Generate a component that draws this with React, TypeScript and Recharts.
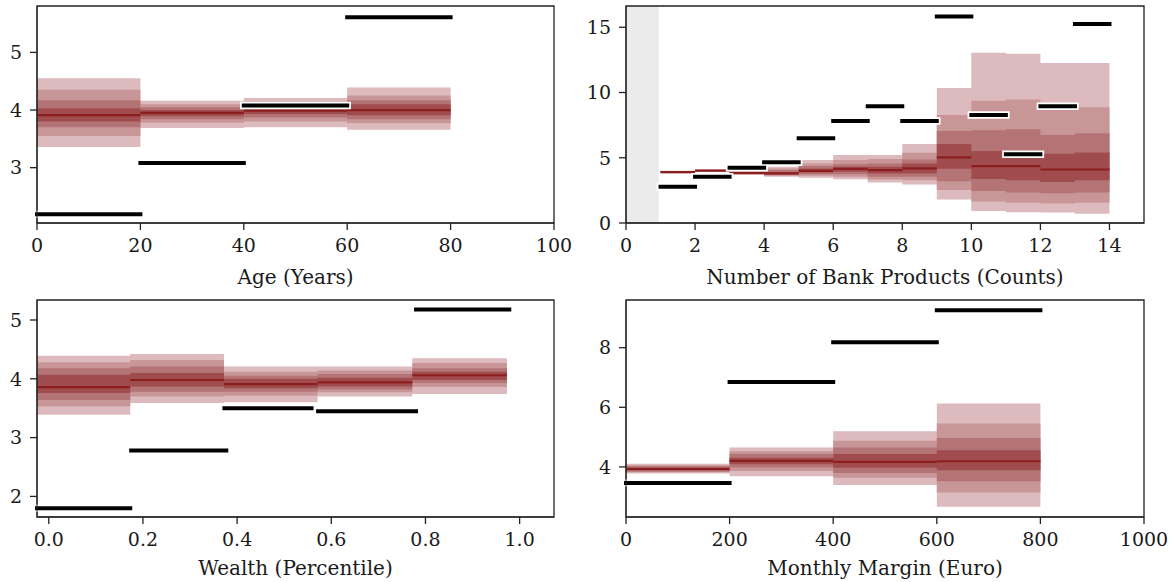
import React from "react";
import { ComposedChart, Area, XAxis, YAxis, ReferenceLine, ReferenceArea } from "recharts";

const FONT = "'DejaVu Serif', serif";
const TEXT = "#1a1a1a";
// outer band -> inner band
const BAND_COLORS = ["#dcbabd", "#c99698", "#b47476", "#a04b4e"];
const MEDIAN_COLOR = "#8b1f1f";

// ---- Age (Years)
const ageEdges = [0, 20, 40, 60, 80];
const ageMedian = [3.91, 3.95, 3.99, 4.0];
const ageLower = [
  [3.36, 3.69, 3.7, 3.66],
  [3.55, 3.78, 3.8, 3.77],
  [3.7, 3.84, 3.87, 3.84],
  [3.8, 3.89, 3.93, 3.91],
];
const ageUpper = [
  [4.55, 4.16, 4.21, 4.39],
  [4.35, 4.1, 4.15, 4.25],
  [4.17, 4.05, 4.1, 4.17],
  [4.03, 4.0, 4.05, 4.1],
];
const ageObsStart = [0, 20, 40, 60];
const ageObsEnd = [20, 40, 60, 80];
const ageObs = [2.19, 3.08, 4.08, 5.61];

// ---- Number of Bank Products (Counts)
const bankEdges = [1, 2, 3, 4, 5, 6, 7, 8, 9, 10, 11, 12, 13, 14];
const bankMedian = [3.9, 4.02, 3.84, 3.8, 4.0, 4.15, 4.05, 4.18, 5.03, 4.36, 4.36, 4.1, 4.1];
const bankLower = [
  [3.8, 3.93, 3.68, 3.54, 3.46, 3.36, 3.1, 2.95, 1.8, 0.92, 0.83, 0.8, 0.7],
  [3.83, 3.95, 3.72, 3.62, 3.62, 3.54, 3.34, 3.28, 2.52, 1.65, 1.55, 1.49, 1.55],
  [3.86, 3.97, 3.76, 3.68, 3.74, 3.74, 3.54, 3.54, 3.2, 2.45, 2.33, 2.28, 2.33],
  [3.88, 3.99, 3.8, 3.74, 3.87, 3.92, 3.8, 3.8, 4.15, 3.38, 3.28, 3.15, 3.28],
];
const bankUpper = [
  [4.0, 4.1, 4.02, 4.31, 4.82, 5.21, 5.21, 6.05, 10.34, 13.05, 12.98, 12.26, 12.26],
  [3.97, 4.08, 3.97, 4.18, 4.56, 4.82, 4.9, 5.38, 8.28, 9.36, 9.47, 8.92, 8.88],
  [3.94, 4.06, 3.92, 4.05, 4.36, 4.51, 4.56, 4.87, 7.06, 7.1, 7.18, 6.75, 6.87],
  [3.92, 4.04, 3.88, 3.9, 4.18, 4.31, 4.31, 4.56, 6.05, 5.52, 5.45, 5.3, 5.4],
];
const bankObsStart = [1, 2, 3, 4, 5, 6, 7, 8, 9, 10, 11, 12, 13];
const bankObsEnd = [2, 3, 4, 5, 6, 7, 8, 9, 10, 11, 12, 13, 14];
const bankObs = [2.77, 3.54, 4.23, 4.65, 6.49, 7.82, 8.95, 7.82, 15.82, 8.28, 5.26, 8.95, 15.26];

// ---- Wealth (Percentile)
const wealthEdges = [-0.025, 0.173, 0.372, 0.571, 0.772, 0.973];
const wealthMedian = [3.86, 3.98, 3.91, 3.94, 4.06];
const wealthLower = [
  [3.39, 3.59, 3.6, 3.7, 3.74],
  [3.53, 3.7, 3.71, 3.77, 3.86],
  [3.64, 3.78, 3.78, 3.82, 3.93],
  [3.76, 3.87, 3.84, 3.87, 3.98],
];
const wealthUpper = [
  [4.39, 4.42, 4.21, 4.21, 4.35],
  [4.28, 4.32, 4.12, 4.14, 4.27],
  [4.18, 4.21, 4.05, 4.08, 4.18],
  [4.07, 4.1, 4.0, 4.02, 4.12],
];
const wealthObsStart = [-0.025, 0.175, 0.373, 0.572, 0.78];
const wealthObsEnd = [0.173, 0.377, 0.558, 0.78, 0.978];
const wealthObs = [1.8, 2.78, 3.5, 3.45, 5.18];

// ---- Monthly Margin (Euro)
const marginEdges = [0, 200, 400, 600, 800];
const marginMedian = [3.93, 4.2, 4.17, 4.19];
const marginLower = [
  [3.78, 3.69, 3.39, 2.66],
  [3.82, 3.86, 3.64, 3.14],
  [3.85, 3.98, 3.8, 3.52],
  [3.88, 4.09, 3.97, 3.89],
];
const marginUpper = [
  [4.11, 4.65, 5.2, 6.13],
  [4.06, 4.53, 4.88, 5.46],
  [4.02, 4.43, 4.65, 4.97],
  [3.98, 4.31, 4.43, 4.56],
];
const marginObsStart = [0, 200, 400, 600];
const marginObsEnd = [200, 400, 600, 800];
const marginObs = [3.46, 6.85, 8.18, 9.26];

function buildRows(edges: number[], lower: number[][], upper: number[][], median: number[]) {
  const n = median.length;
  return edges.map((x, i) => {
    const k = Math.min(i, n - 1);
    const row: any = { x };
    for (let l = 0; l < 4; l++) row["b" + l] = [lower[l][k], upper[l][k]];
    return row;
  });
}

const panels = [
  {
    label: "Age (Years)",
    edges: ageEdges,
    median: ageMedian,
    rows: buildRows(ageEdges, ageLower, ageUpper, ageMedian),
    obs: { start: ageObsStart, end: ageObsEnd, y: ageObs },
    xDomain: [0, 100], xTicks: [0, 20, 40, 60, 80, 100],
    yDomain: [2.04, 5.805], yTicks: [3, 4, 5],
    left: 0, top: 0, yWidth: 37, labelOffset: 7, margin: { top: 6, right: 33, bottom: 28, left: 0 },
  },
  {
    label: "Number of Bank Products (Counts)",
    edges: bankEdges,
    median: bankMedian,
    rows: buildRows(bankEdges, bankLower, bankUpper, bankMedian),
    obs: { start: bankObsStart, end: bankObsEnd, y: bankObs },
    xDomain: [0, 15], xTicks: [0, 2, 4, 6, 8, 10, 12, 14],
    yDomain: [0, 16.63], yTicks: [0, 5, 10, 15],
    shade: [0, 0.95],
    left: 587, top: 0, yWidth: 39, labelOffset: 7, margin: { top: 6, right: 30, bottom: 28, left: 0 },
  },
  {
    label: "Wealth (Percentile)",
    edges: wealthEdges,
    median: wealthMedian,
    rows: buildRows(wealthEdges, wealthLower, wealthUpper, wealthMedian),
    obs: { start: wealthObsStart, end: wealthObsEnd, y: wealthObs },
    xDomain: [-0.025, 1.073], xTicks: [0, 0.2, 0.4, 0.6, 0.8, 1.0],
    yDomain: [1.65, 5.34], yTicks: [2, 3, 4, 5],
    fmt: (v: number) => v.toFixed(1),
    left: 0, top: 291, yWidth: 37, labelOffset: 4, margin: { top: 9, right: 33, bottom: 25, left: 0 },
  },
  {
    label: "Monthly Margin (Euro)",
    edges: marginEdges,
    median: marginMedian,
    rows: buildRows(marginEdges, marginLower, marginUpper, marginMedian),
    obs: { start: marginObsStart, end: marginObsEnd, y: marginObs },
    xDomain: [0, 1000], xTicks: [0, 200, 400, 600, 800, 1000],
    yDomain: [2.32, 9.6], yTicks: [4, 6, 8],
    left: 587, top: 291, yWidth: 39, labelOffset: 4, margin: { top: 9, right: 30, bottom: 25, left: 0 },
  },
];

const tickStyle = { fontFamily: FONT, fontSize: 19, fill: TEXT };

function Panel({ p }: { p: any }) {
  const [x0, x1] = p.xDomain;
  const [y0, y1] = p.yDomain;
  return (
    <div style={{ position: "absolute", left: p.left, top: p.top }}>
      <ComposedChart width={587} height={291} data={p.rows} margin={p.margin}>
        {p.shade && (
          <ReferenceArea x1={p.shade[0]} x2={p.shade[1]} y1={y0} y2={y1} fill="#ebebeb" fillOpacity={1} stroke="none" />
        )}
        <XAxis
          type="number"
          dataKey="x"
          domain={p.xDomain}
          ticks={p.xTicks}
          allowDataOverflow
          interval={0}
          height={40}
          tickSize={7}
          tickMargin={9}
          tick={tickStyle}
          tickFormatter={p.fmt}
          stroke="#222"
          tickLine={{ stroke: "#222", strokeWidth: 1.3 }}
          label={{ value: p.label, position: "bottom", offset: p.labelOffset, fontFamily: FONT, fontSize: 20, fill: TEXT }}
        />
        <YAxis
          type="number"
          domain={p.yDomain}
          ticks={p.yTicks}
          allowDataOverflow
          interval={0}
          width={p.yWidth}
          tickSize={7}
          tickMargin={8}
          tick={tickStyle}
          stroke="#222"
          tickLine={{ stroke: "#222", strokeWidth: 1.3 }}
        />
        {[0, 1, 2, 3].map((l) => (
          <Area
            key={l}
            dataKey={"b" + l}
            type="stepAfter"
            fill={BAND_COLORS[l]}
            fillOpacity={1}
            stroke="none"
            dot={false}
            activeDot={false}
            isAnimationActive={false}
          />
        ))}
        {p.median.map((v: number, i: number) => (
          <ReferenceLine
            key={"m" + i}
            segment={[{ x: p.edges[i], y: v }, { x: p.edges[i + 1], y: v }]}
            stroke={MEDIAN_COLOR}
            strokeWidth={2.2}
            ifOverflow="visible"
          />
        ))}
        {p.obs.y.map((v: number, i: number) => (
          <ReferenceLine
            key={"w" + i}
            segment={[{ x: p.obs.start[i], y: v }, { x: p.obs.end[i], y: v }]}
            stroke="#fff"
            strokeWidth={7.5}
            strokeLinecap="square"
            ifOverflow="visible"
          />
        ))}
        {p.obs.y.map((v: number, i: number) => (
          <ReferenceLine
            key={"k" + i}
            segment={[{ x: p.obs.start[i], y: v }, { x: p.obs.end[i], y: v }]}
            stroke="#000"
            strokeWidth={4}
            strokeLinecap="square"
            ifOverflow="visible"
          />
        ))}
        <ReferenceArea x1={x0} x2={x1} y1={y0} y2={y1} fill="none" stroke="#222" strokeWidth={1.3} />
      </ComposedChart>
    </div>
  );
}

export default function App() {
  return (
    <div style={{ position: "absolute", left: 0, top: 0, width: 1174, height: 582, background: "#fff" }}>
      {panels.map((p, i) => (
        <Panel key={i} p={p} />
      ))}
    </div>
  );
}
